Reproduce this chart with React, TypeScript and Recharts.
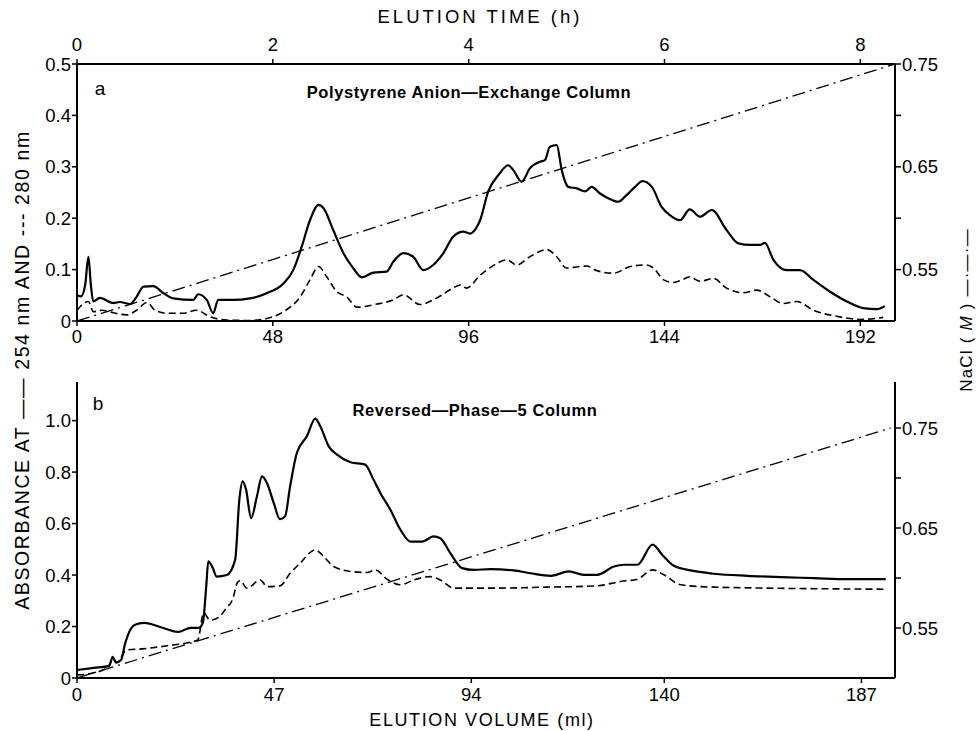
import React from 'react';
import { LineChart, Line, XAxis, YAxis } from 'recharts';

// panel a: polystyrene anion-exchange column (x = ml, y = absorbance)
const a254: [number, number][] = [
  [0, 0.05], [1, 0.048], [2, 0.07], [2.8, 0.125], [3.4, 0.07], [4, 0.038], [5.6, 0.045], [8.9, 0.035],
  [10.5, 0.037], [13, 0.033], [14.6, 0.047], [16.3, 0.067], [18.7, 0.068], [21.2, 0.054], [23.6, 0.044],
  [28.5, 0.041], [29.7, 0.052], [31.8, 0.041], [33.4, 0.015], [34.6, 0.041], [38.3, 0.041], [42.4, 0.044],
  [46.5, 0.054], [50.6, 0.073], [53, 0.099], [55.1, 0.145], [57.1, 0.196], [59.2, 0.226], [60.4, 0.22],
  [62.8, 0.177], [65.3, 0.132], [67.7, 0.103], [69.8, 0.085], [72.6, 0.094], [75.9, 0.096], [77.5, 0.115],
  [80, 0.132], [82.4, 0.125], [84.9, 0.099], [87.3, 0.109], [89.8, 0.132], [92.2, 0.164], [94.7, 0.174],
  [96.3, 0.17], [98, 0.183], [98.8, 0.196], [100.8, 0.252], [103.3, 0.284], [105.7, 0.303], [106.9, 0.294],
  [109, 0.271], [111, 0.297], [113.5, 0.31], [114.7, 0.313], [115.9, 0.339], [117.6, 0.342], [118.8, 0.294],
  [120.4, 0.261], [122.5, 0.258], [124.5, 0.252], [126.1, 0.261], [128.2, 0.248], [130.2, 0.239],
  [132.7, 0.232], [134.7, 0.245], [136.8, 0.261], [138.6, 0.272], [140.9, 0.261], [143.3, 0.222],
  [145.3, 0.206], [147.8, 0.196], [150.2, 0.217], [152.7, 0.203], [155.6, 0.216], [159.2, 0.177],
  [162.1, 0.151], [165, 0.148], [167.4, 0.148], [168.6, 0.152], [170.7, 0.119], [174, 0.099], [177.2, 0.099],
  [180.5, 0.08], [184.6, 0.057], [188.7, 0.038], [192.7, 0.025], [196, 0.023], [198, 0.029],
];
const a280: [number, number][] = [
  [0, 0.021], [2.8, 0.038], [4, 0.018], [6, 0.021], [8.9, 0.016], [12.2, 0.012], [14.6, 0.021], [17.2, 0.036],
  [19.1, 0.021], [22, 0.015], [26, 0.015], [29.3, 0.021], [32.6, 0.008], [36.7, 0.002], [42.4, 0.001],
  [46.5, 0.005], [50.6, 0.018], [54.7, 0.047], [57.1, 0.08], [59.2, 0.106], [61.2, 0.086], [63.7, 0.057],
  [66.1, 0.047], [68.6, 0.027], [73.5, 0.033], [77.5, 0.041], [80, 0.051], [84.1, 0.032], [87.3, 0.041],
  [92.2, 0.064], [93.9, 0.07], [95.5, 0.064], [98.8, 0.089], [100.4, 0.099], [102.9, 0.112], [105.3, 0.119],
  [107.8, 0.109], [111, 0.125], [115.1, 0.139], [117.6, 0.125], [120, 0.103], [124.9, 0.107], [127.4, 0.098],
  [131.5, 0.093], [135.6, 0.106], [139.7, 0.109], [141.3, 0.103], [143.8, 0.08], [146.2, 0.075],
  [148.3, 0.08], [150.2, 0.086], [152.7, 0.077], [156, 0.083], [159.2, 0.064], [163.3, 0.055], [166.6, 0.06],
  [169.9, 0.047], [173.1, 0.034], [176.4, 0.038], [180.5, 0.021], [187, 0.008], [192, 0.003], [197.6, 0.007],
];
const aNaCl: [number, number][] = [[0, 0.5], [200.5, 0.75]];

// panel b: reversed-phase-5 column
const b254: [number, number][] = [
  [0, 0.031], [4, 0.039], [7.7, 0.047], [8.5, 0.082], [9.3, 0.06], [10.5, 0.07], [11.5, 0.136], [13.7, 0.206],
  [16, 0.214], [20.4, 0.195], [24.1, 0.179], [27.1, 0.195], [29, 0.195], [30, 0.214], [30.8, 0.354],
  [31.3, 0.453], [32.3, 0.43], [33.3, 0.394], [35.7, 0.4], [37.7, 0.459], [38.7, 0.693], [39.5, 0.764],
  [40.3, 0.732], [41.5, 0.621], [42.9, 0.706], [44.1, 0.783], [45.3, 0.757], [46.9, 0.68], [48.4, 0.617],
  [49.6, 0.628], [50.8, 0.744], [52.4, 0.874], [54.8, 0.939], [56.8, 1.008], [58, 0.978], [60, 0.9],
  [62, 0.868], [65.2, 0.838], [68.7, 0.829], [70.7, 0.77], [72.3, 0.719], [74.7, 0.654], [77.1, 0.576],
  [79.5, 0.53], [82.3, 0.53], [85, 0.55], [86.6, 0.543], [89, 0.485], [91.8, 0.427], [94.6, 0.42],
  [98.6, 0.423], [104.1, 0.418], [108.1, 0.407], [112.9, 0.397], [117.3, 0.414], [120.8, 0.401],
  [124, 0.401], [128, 0.433], [130.4, 0.44], [133.6, 0.44], [137.2, 0.518], [139.5, 0.479], [142.3, 0.436],
  [146.3, 0.418], [151.9, 0.405], [159.8, 0.397], [167.8, 0.392], [175.7, 0.388], [183.7, 0.384],
  [192.8, 0.384],
];
const b280: [number, number][] = [
  [0, 0.012], [3.7, 0.019], [7.4, 0.043], [8.5, 0.075], [9.5, 0.06], [11.8, 0.109], [15.5, 0.113],
  [21.4, 0.125], [27.2, 0.14], [28.8, 0.148], [30.2, 0.253], [31.7, 0.225], [33.9, 0.237], [35.5, 0.27],
  [37.2, 0.31], [38.2, 0.37], [38.9, 0.379], [40.5, 0.349], [43.7, 0.381], [45.3, 0.355], [48.4, 0.358],
  [50.8, 0.407], [53.2, 0.446], [56.8, 0.498], [58.8, 0.472], [61.2, 0.433], [65.2, 0.414], [69.1, 0.41],
  [71.1, 0.42], [73.9, 0.384], [77.1, 0.362], [80.3, 0.381], [84.2, 0.394], [86.6, 0.381], [89.8, 0.349],
  [93, 0.349], [98.6, 0.349], [112, 0.353], [124, 0.358], [129.6, 0.375], [133.6, 0.384], [137.2, 0.42],
  [139.9, 0.401], [143.9, 0.362], [151.9, 0.353], [192.8, 0.345],
];
const bNaCl: [number, number][] = [[0, 0.5], [194, 0.75]];

const aVolTicks = [0, 48, 96, 144, 192];
const bVolTicks = [0, 47, 94, 140, 187];
const aAbsTicks = [0, 0.1, 0.2, 0.3, 0.4, 0.5];
const bAbsTicks = [0, 0.2, 0.4, 0.6, 0.8, 1.0];
const naclTicks = [0.55, 0.6, 0.65, 0.7, 0.75];
const naclLabelled = [0.55, 0.65, 0.75];

const FONT = '"Liberation Sans", Arial, Helvetica, sans-serif';
const tickStyle = { fill: '#000', fontSize: 18.5, fontFamily: FONT };
const axisLine = { stroke: '#000', strokeWidth: 2 };
const tickLine = { stroke: '#000', strokeWidth: 1.5 };

const toRows = (pts: [number, number][]) => pts.map(([x, y]) => ({ x, y }));
const absFmt = (v: number) => (v === 0 ? '0' : v.toFixed(1));
const naclFmt = (v: number) => (naclLabelled.some(t => Math.abs(t - v) < 1e-6) ? v.toFixed(2) : '');

function Panel({ s254, s280, nacl, xMax, xTicks, absTicks, absMax, naclMax, timeAxis, height, top, bottom, bottomGap }: any) {
  return (
    <LineChart width={977} height={height} margin={{ top, right: 0, bottom: 0, left: 0 }}>
      <XAxis xAxisId="v" dataKey="x" type="number" domain={[0, xMax]} ticks={xTicks} allowDataOverflow
        height={bottom} tick={tickStyle} axisLine={axisLine} tickLine={tickLine} tickSize={5} tickMargin={bottomGap} />
      {timeAxis ? (
        <XAxis xAxisId="t" orientation="top" dataKey="x" type="number" domain={[0, xMax]} ticks={xTicks}
          allowDataOverflow height={30} tick={tickStyle} axisLine={axisLine} tickLine={tickLine} tickSize={5}
          tickMargin={8} tickFormatter={(v: number) => String(v / 24)} />
      ) : (
        <XAxis xAxisId="t" orientation="top" dataKey="x" type="number" domain={[0, xMax]} ticks={xTicks}
          allowDataOverflow height={0} mirror tick={false} axisLine={axisLine} tickLine={tickLine} tickSize={6} />
      )}
      <YAxis yAxisId="abs" type="number" domain={[0, absMax]} ticks={absTicks} allowDataOverflow width={77}
        tick={tickStyle} axisLine={axisLine} tickLine={tickLine} tickSize={5} tickMargin={1}
        tickFormatter={absFmt} />
      <YAxis yAxisId="m" orientation="right" type="number" domain={[0.5, naclMax]} ticks={naclTicks}
        allowDataOverflow width={82} tick={tickStyle} axisLine={axisLine} tickLine={tickLine} tickSize={6}
        tickMargin={1} tickFormatter={naclFmt} />
      <Line xAxisId="t" yAxisId="m" data={toRows(nacl)} dataKey="y" type="linear" stroke="#000"
        strokeWidth={1.3} strokeDasharray="13 5 2 5" dot={false} isAnimationActive={false} />
      <Line xAxisId="v" yAxisId="abs" data={toRows(s280)} dataKey="y" type="monotone" stroke="#000"
        strokeWidth={1.6} strokeDasharray="7 4" dot={false} isAnimationActive={false} />
      <Line xAxisId="v" yAxisId="abs" data={toRows(s254)} dataKey="y" type="monotone" stroke="#000"
        strokeWidth={2.2} dot={false} isAnimationActive={false} />
    </LineChart>
  );
}

const abs = (style: React.CSSProperties): React.CSSProperties => ({
  position: 'absolute', fontFamily: FONT, color: '#000', whiteSpace: 'nowrap',
  transform: 'translate(-50%, -50%)', ...style,
});

export default function App() {
  return (
    <div style={{ position: 'absolute', left: 0, top: 0, width: 977, height: 731, background: '#fff', overflow: 'hidden' }}>
      <div style={{ position: 'absolute', left: 0, top: 0 }}>
        <Panel s254={a254} s280={a280} nacl={aNaCl} xMax={200.5} xTicks={aVolTicks} absTicks={aAbsTicks}
          absMax={0.5} naclMax={0.75} timeAxis height={350} top={34} bottom={29} bottomGap={4} />
      </div>
      <div style={{ position: 'absolute', left: 0, top: 350 }}>
        <Panel s254={b254} s280={b280} nacl={bNaCl} xMax={195} xTicks={bVolTicks} absTicks={bAbsTicks}
          absMax={1.15} naclMax={0.796} timeAxis={false} height={381} top={32} bottom={53} bottomGap={5} />
      </div>

      <div style={abs({ left: 480, top: 17, fontSize: 18.5, letterSpacing: 3 })}>ELUTION TIME (h)</div>
      <div style={abs({ left: 482, top: 720, fontSize: 18, letterSpacing: 1.6 })}>ELUTION VOLUME (ml)</div>

      <div style={abs({ left: 100, top: 89, fontSize: 19 })}>a</div>
      <div style={abs({ left: 469, top: 92, fontSize: 16.5, fontWeight: 'bold', letterSpacing: 0.6 })}>Polystyrene Anion—Exchange Column</div>
      <div style={abs({ left: 98, top: 404, fontSize: 19 })}>b</div>
      <div style={abs({ left: 475, top: 410, fontSize: 16.5, fontWeight: 'bold', letterSpacing: 0.6 })}>Reversed—Phase—5 Column</div>

      <div style={abs({ left: 22, top: 370, fontSize: 19.5, letterSpacing: 1.6, transform: 'translate(-50%, -50%) rotate(-90deg)' })}>
        ABSORBANCE AT —— 254 nm AND --- 280 nm
      </div>
      <div style={abs({ left: 967, top: 310, fontSize: 17, letterSpacing: 1.2, transform: 'translate(-50%, -50%) rotate(-90deg)' })}>
        NaCl ( <i>M</i> ) —·—·—
      </div>
    </div>
  );
}
